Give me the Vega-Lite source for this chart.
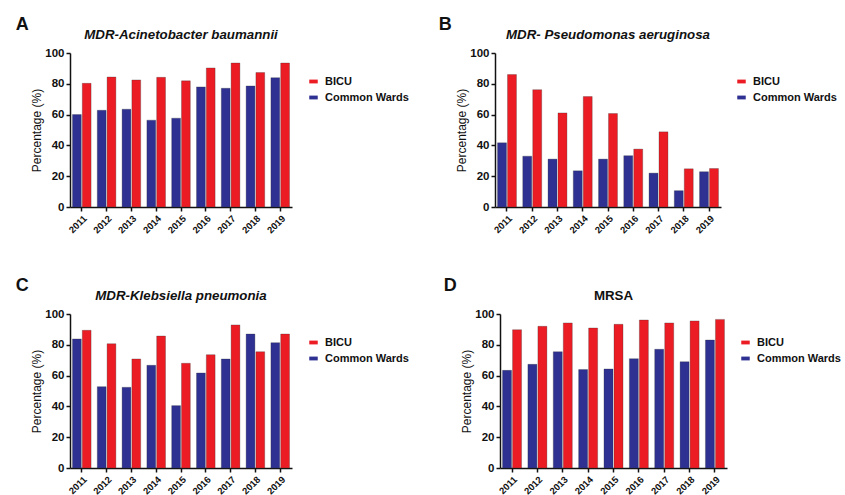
{
  "$schema": "https://vega.github.io/schema/vega-lite/v6.json",
  "background": "white",
  "padding": {"left": 15, "top": 15, "right": 0, "bottom": 0},
  "config": {
    "view": {"stroke": null},
    "font": "Liberation Sans",
    "axis": {"domainColor": "#111", "domainWidth": 1.5, "tickColor": "#111", "tickWidth": 1.5, "tickSize": 4, "labelColor": "#111", "labelFontWeight": "bold", "labelPadding": 2, "grid": false, "titleColor": "#111", "titleFontWeight": "normal", "titleFontSize": 12, "titlePadding": 1},
    "legend": {"labelFontSize": 11, "labelFontWeight": "bold", "labelColor": "#111", "symbolType": "M-1,-0.45H1V0.45H-1Z", "symbolSize": 72, "symbolStrokeWidth": 0, "symbolOpacity": 1, "rowPadding": 4, "labelOffset": 6, "title": null, "orient": "none", "legendY": 23},
    "title": {"color": "#111"}
  },
  "datasets": {
    "d": [
      {"p": "A", "year": "2011", "ward": "Common Wards", "v": 60.0},
      {"p": "A", "year": "2012", "ward": "Common Wards", "v": 62.8},
      {"p": "A", "year": "2013", "ward": "Common Wards", "v": 63.5},
      {"p": "A", "year": "2014", "ward": "Common Wards", "v": 56.4},
      {"p": "A", "year": "2015", "ward": "Common Wards", "v": 57.7},
      {"p": "A", "year": "2016", "ward": "Common Wards", "v": 78.0},
      {"p": "A", "year": "2017", "ward": "Common Wards", "v": 77.1},
      {"p": "A", "year": "2018", "ward": "Common Wards", "v": 78.6},
      {"p": "A", "year": "2019", "ward": "Common Wards", "v": 84.0},
      {"p": "A", "year": "2011", "ward": "BICU", "v": 80.3},
      {"p": "A", "year": "2012", "ward": "BICU", "v": 84.4},
      {"p": "A", "year": "2013", "ward": "BICU", "v": 82.5},
      {"p": "A", "year": "2014", "ward": "BICU", "v": 84.2},
      {"p": "A", "year": "2015", "ward": "BICU", "v": 81.9},
      {"p": "A", "year": "2016", "ward": "BICU", "v": 90.3},
      {"p": "A", "year": "2017", "ward": "BICU", "v": 93.5},
      {"p": "A", "year": "2018", "ward": "BICU", "v": 87.3},
      {"p": "A", "year": "2019", "ward": "BICU", "v": 93.5},
      {"p": "B", "year": "2011", "ward": "Common Wards", "v": 41.7},
      {"p": "B", "year": "2012", "ward": "Common Wards", "v": 33.0},
      {"p": "B", "year": "2013", "ward": "Common Wards", "v": 31.1},
      {"p": "B", "year": "2014", "ward": "Common Wards", "v": 23.5},
      {"p": "B", "year": "2015", "ward": "Common Wards", "v": 31.1},
      {"p": "B", "year": "2016", "ward": "Common Wards", "v": 33.3},
      {"p": "B", "year": "2017", "ward": "Common Wards", "v": 22.0},
      {"p": "B", "year": "2018", "ward": "Common Wards", "v": 10.6},
      {"p": "B", "year": "2019", "ward": "Common Wards", "v": 22.9},
      {"p": "B", "year": "2011", "ward": "BICU", "v": 86.0},
      {"p": "B", "year": "2012", "ward": "BICU", "v": 76.2},
      {"p": "B", "year": "2013", "ward": "BICU", "v": 61.1},
      {"p": "B", "year": "2014", "ward": "BICU", "v": 71.7},
      {"p": "B", "year": "2015", "ward": "BICU", "v": 60.7},
      {"p": "B", "year": "2016", "ward": "BICU", "v": 37.6},
      {"p": "B", "year": "2017", "ward": "BICU", "v": 48.8},
      {"p": "B", "year": "2018", "ward": "BICU", "v": 24.8},
      {"p": "B", "year": "2019", "ward": "BICU", "v": 25.0},
      {"p": "C", "year": "2011", "ward": "Common Wards", "v": 83.8},
      {"p": "C", "year": "2012", "ward": "Common Wards", "v": 52.8},
      {"p": "C", "year": "2013", "ward": "Common Wards", "v": 52.4},
      {"p": "C", "year": "2014", "ward": "Common Wards", "v": 66.7},
      {"p": "C", "year": "2015", "ward": "Common Wards", "v": 40.5},
      {"p": "C", "year": "2016", "ward": "Common Wards", "v": 61.7},
      {"p": "C", "year": "2017", "ward": "Common Wards", "v": 70.8},
      {"p": "C", "year": "2018", "ward": "Common Wards", "v": 87.0},
      {"p": "C", "year": "2019", "ward": "Common Wards", "v": 81.4},
      {"p": "C", "year": "2011", "ward": "BICU", "v": 89.4},
      {"p": "C", "year": "2012", "ward": "BICU", "v": 80.7},
      {"p": "C", "year": "2013", "ward": "BICU", "v": 70.8},
      {"p": "C", "year": "2014", "ward": "BICU", "v": 85.7},
      {"p": "C", "year": "2015", "ward": "BICU", "v": 68.0},
      {"p": "C", "year": "2016", "ward": "BICU", "v": 73.6},
      {"p": "C", "year": "2017", "ward": "BICU", "v": 92.9},
      {"p": "C", "year": "2018", "ward": "BICU", "v": 75.5},
      {"p": "C", "year": "2019", "ward": "BICU", "v": 87.0},
      {"p": "D", "year": "2011", "ward": "Common Wards", "v": 63.4},
      {"p": "D", "year": "2012", "ward": "Common Wards", "v": 67.3},
      {"p": "D", "year": "2013", "ward": "Common Wards", "v": 75.5},
      {"p": "D", "year": "2014", "ward": "Common Wards", "v": 63.9},
      {"p": "D", "year": "2015", "ward": "Common Wards", "v": 64.3},
      {"p": "D", "year": "2016", "ward": "Common Wards", "v": 71.0},
      {"p": "D", "year": "2017", "ward": "Common Wards", "v": 77.1},
      {"p": "D", "year": "2018", "ward": "Common Wards", "v": 69.0},
      {"p": "D", "year": "2019", "ward": "Common Wards", "v": 83.1},
      {"p": "D", "year": "2011", "ward": "BICU", "v": 89.8},
      {"p": "D", "year": "2012", "ward": "BICU", "v": 92.0},
      {"p": "D", "year": "2013", "ward": "BICU", "v": 94.2},
      {"p": "D", "year": "2014", "ward": "BICU", "v": 90.9},
      {"p": "D", "year": "2015", "ward": "BICU", "v": 93.3},
      {"p": "D", "year": "2016", "ward": "BICU", "v": 96.1},
      {"p": "D", "year": "2017", "ward": "BICU", "v": 94.2},
      {"p": "D", "year": "2018", "ward": "BICU", "v": 95.5},
      {"p": "D", "year": "2019", "ward": "BICU", "v": 96.5}
    ]
  },
  "spacing": 41,
  "resolve": {"scale": {"color": "independent", "x": "independent", "y": "independent", "xOffset": "independent"}, "legend": {"color": "independent"}},
  "vconcat": [
    {
      "resolve": {"scale": {"color": "independent", "x": "independent", "y": "independent", "xOffset": "independent"}, "legend": {"color": "independent"}},
      "spacing": 29,
      "hconcat": [
        {
          "title": {"text": "A", "anchor": "start", "fontSize": 18, "fontWeight": "bold", "offset": -6, "dx": -15},
          "resolve": {"legend": {"color": "independent"}},
          "vconcat": [
            {
              "data": {"name": "d"},
              "transform": [{"filter": "datum.p == 'A'"}],
              "title": {"text": "MDR-Acinetobacter baumannii", "fontSize": 13.3, "fontWeight": "bold", "fontStyle": "italic", "offset": 6},
              "width": 222, "height": 154,
              "mark": {"type": "bar", "stroke": "#333", "strokeWidth": 0.3},
              "encoding": {
                "x": {"field": "year", "type": "nominal", "scale": {"paddingInner": 0.25, "paddingOuter": 0.1}, "axis": {"title": null, "labelAngle": -45, "labelFontSize": 9.5}},
                "xOffset": {"field": "ward", "type": "nominal", "scale": {"domain": ["Common Wards", "BICU"], "paddingInner": 0.1}},
                "y": {"field": "v", "type": "quantitative", "scale": {"domain": [0, 100]}, "axis": {"title": "Percentage (%)", "values": [0, 20, 40, 60, 80, 100], "labelFontSize": 11.5}},
                "color": {"field": "ward", "type": "nominal", "scale": {"domain": ["BICU", "Common Wards"], "range": ["#ec1c24", "#2e3092"]}, "legend": {"legendX": 238}}
              }
            }
          ]
        },
        {
          "title": {"text": "B", "anchor": "start", "fontSize": 18, "fontWeight": "bold", "offset": -6, "dx": -17},
          "resolve": {"legend": {"color": "independent"}},
          "vconcat": [
            {
              "data": {"name": "d"},
              "transform": [{"filter": "datum.p == 'B'"}],
              "title": {"text": "MDR- Pseudomonas aeruginosa", "fontSize": 13.3, "fontWeight": "bold", "fontStyle": "italic", "offset": 6},
              "width": 226, "height": 154,
              "mark": {"type": "bar", "stroke": "#333", "strokeWidth": 0.3},
              "encoding": {
                "x": {"field": "year", "type": "nominal", "scale": {"paddingInner": 0.25, "paddingOuter": 0.1}, "axis": {"title": null, "labelAngle": -45, "labelFontSize": 9.5}},
                "xOffset": {"field": "ward", "type": "nominal", "scale": {"domain": ["Common Wards", "BICU"], "paddingInner": 0.1}},
                "y": {"field": "v", "type": "quantitative", "scale": {"domain": [0, 100]}, "axis": {"title": "Percentage (%)", "values": [0, 20, 40, 60, 80, 100], "labelFontSize": 11.5}},
                "color": {"field": "ward", "type": "nominal", "scale": {"domain": ["BICU", "Common Wards"], "range": ["#ec1c24", "#2e3092"]}, "legend": {"legendX": 241}}
              }
            }
          ]
        }
      ]
    },
    {
      "resolve": {"scale": {"color": "independent", "x": "independent", "y": "independent", "xOffset": "independent"}, "legend": {"color": "independent"}},
      "spacing": 34,
      "hconcat": [
        {
          "title": {"text": "C", "anchor": "start", "fontSize": 18, "fontWeight": "bold", "offset": -6, "dx": -15},
          "resolve": {"legend": {"color": "independent"}},
          "vconcat": [
            {
              "data": {"name": "d"},
              "transform": [{"filter": "datum.p == 'C'"}],
              "title": {"text": "MDR-Klebsiella pneumonia", "fontSize": 13.3, "fontWeight": "bold", "fontStyle": "italic", "offset": 6},
              "width": 222, "height": 154,
              "mark": {"type": "bar", "stroke": "#333", "strokeWidth": 0.3},
              "encoding": {
                "x": {"field": "year", "type": "nominal", "scale": {"paddingInner": 0.25, "paddingOuter": 0.1}, "axis": {"title": null, "labelAngle": -45, "labelFontSize": 9.5}},
                "xOffset": {"field": "ward", "type": "nominal", "scale": {"domain": ["Common Wards", "BICU"], "paddingInner": 0.1}},
                "y": {"field": "v", "type": "quantitative", "scale": {"domain": [0, 100]}, "axis": {"title": "Percentage (%)", "values": [0, 20, 40, 60, 80, 100], "labelFontSize": 11.5}},
                "color": {"field": "ward", "type": "nominal", "scale": {"domain": ["BICU", "Common Wards"], "range": ["#ec1c24", "#2e3092"]}, "legend": {"legendX": 238}}
              }
            }
          ]
        },
        {
          "title": {"text": "D", "anchor": "start", "fontSize": 18, "fontWeight": "bold", "offset": -6, "dx": -17},
          "resolve": {"legend": {"color": "independent"}},
          "vconcat": [
            {
              "data": {"name": "d"},
              "transform": [{"filter": "datum.p == 'D'"}],
              "title": {"text": "MRSA", "fontSize": 13.3, "fontWeight": "bold", "offset": 6},
              "width": 227, "height": 154,
              "mark": {"type": "bar", "stroke": "#333", "strokeWidth": 0.3},
              "encoding": {
                "x": {"field": "year", "type": "nominal", "scale": {"paddingInner": 0.25, "paddingOuter": 0.1}, "axis": {"title": null, "labelAngle": -45, "labelFontSize": 9.5}},
                "xOffset": {"field": "ward", "type": "nominal", "scale": {"domain": ["Common Wards", "BICU"], "paddingInner": 0.1}},
                "y": {"field": "v", "type": "quantitative", "scale": {"domain": [0, 100]}, "axis": {"title": "Percentage (%)", "values": [0, 20, 40, 60, 80, 100], "labelFontSize": 11.5}},
                "color": {"field": "ward", "type": "nominal", "scale": {"domain": ["BICU", "Common Wards"], "range": ["#ec1c24", "#2e3092"]}, "legend": {"legendX": 240}}
              }
            }
          ]
        }
      ]
    }
  ]
}
